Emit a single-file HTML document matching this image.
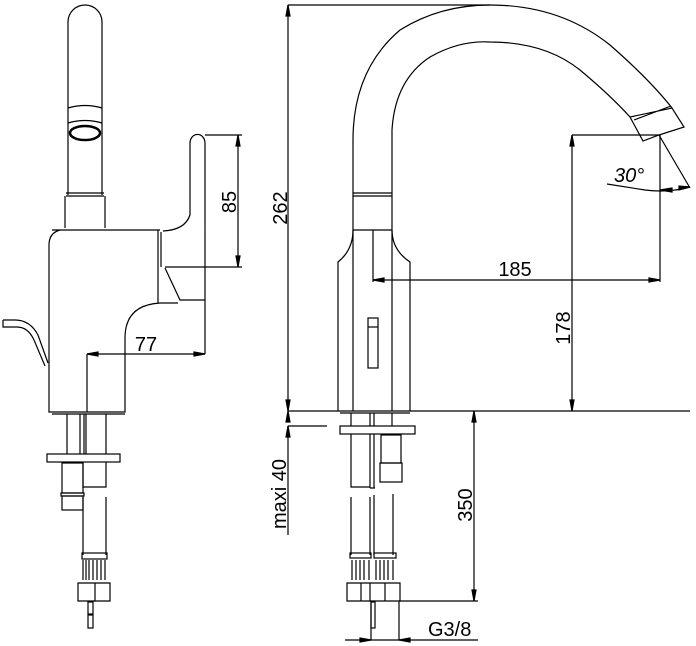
<!DOCTYPE html>
<html><head><meta charset="utf-8"><style>
html,body{margin:0;padding:0;background:#fff;}
svg{display:block}
text{font-family:"Liberation Sans",sans-serif;font-size:20px;fill:#000;stroke:none;font-weight:normal}
</style></head><body>
<svg width="696" height="646" viewBox="0 0 696 646" xmlns="http://www.w3.org/2000/svg">
<g fill="none" stroke="#000" stroke-width="1.2">
<!-- LEFT VIEW -->
<path d="M68,195 V22 A17,17 0 0 1 102,22 V195"/>
<path d="M68,108 Q85,103 102,108"/>
<path d="M68,123 Q85,118 102,123"/>
<ellipse cx="85" cy="133" rx="15" ry="7" stroke-width="2.5"/>
<path d="M66,193 H104 M66,196 H104"/>
<path d="M65,196 V228 M105,196 V228"/>
<path d="M52,230 H160 M60,230 Q49,233 49,245 V412 H125 V338 Q125,305 160,303 H178"/>
<path d="M158,230 V303"/>
<path d="M161,232 V267"/>
<path d="M163,231 Q185,230 190,215 V143 A7,8 0 0 1 205,143 V300 H180 L165,268"/>
<path d="M3,320 H15 Q30,320 38,335 L48,363"/>
<path d="M3,320 V327 H17 Q28,327 34,340 L45,366"/>
<path d="M205,135 H242 M165,267 H242 M238,135 V267"/>
<path d="M238,135 L236,146 L240,146Z M238,267 L236,256 L240,256Z" fill="#000"/>
<text transform="translate(236,202) rotate(-90)" text-anchor="middle">85</text>
<path d="M87,354 H205 M87,354 V412 M205,300 V354"/>
<path d="M87,354 L98,352 L98,356Z M205,354 L194,352 L194,356Z" fill="#000"/>
<text x="146" y="351" text-anchor="middle">77</text>
<path d="M52,414 H125"/>
<path d="M67,414 V454 M84,414 V454 M80,414 V454 M86,414 V454 M106,414 V454"/>
<rect x="47" y="454" width="73" height="8"/>
<rect x="62" y="463" width="21" height="30"/>
<rect x="61" y="493" width="23" height="3"/>
<rect x="62" y="496" width="21" height="14"/>
<path d="M83,462 V487 H106 V462 M83,497 V555 M106,497 V555"/>
<rect x="82" y="553" width="25" height="6"/>
<path d="M83,560 V580 M86,560 V580 M89,560 V580 M93,560 V580 M97,560 V580 M101,560 V580 M105,560 V580"/>
<path d="M78,583 H110 V601 H78Z M95,583 V601"/>
<rect x="88" y="602" width="5" height="12"/>
<rect x="88" y="615" width="5" height="13"/>
<!-- RIGHT VIEW -->
<path d="M288,5 V411 M288,5 H490"/>
<path d="M288,5 L286,16 L290,16Z M288,411 L286,400 L290,400Z" fill="#000"/>
<text transform="translate(287,208) rotate(-90)" text-anchor="middle">262</text>
<path d="M353,230 V140 Q353,70 400,30 Q440,5 490,5 Q560,5 610,45 Q650,80 672,108"/>
<path d="M392,230 V130 Q395,80 430,57 Q460,40 490,42 Q545,42 580,70 Q610,95 630,117"/>
<path d="M630,117 L643,141 L659,135 L684,127 L672,108 Z M634,120 L671,106"/>
<path d="M353,193 H392 M353,196 H392"/>
<path d="M353,230 H392"/>
<path d="M353,230 Q353,250 338,262 V411 M392,230 Q392,250 410,262 V411"/>
<path d="M353,230 V411 M392,230 V411"/>
<rect x="368" y="318" width="10" height="50"/>
<path d="M368,327 H378"/>
<path d="M373,230 V282 M373,280 H660 M660,135 V282"/>
<path d="M373,280 L384,278 L384,282Z M660,280 L649,278 L649,282Z" fill="#000"/>
<text x="515" y="276" text-anchor="middle">185</text>
<path d="M572,135 H660 M572,135 V411"/>
<path d="M572,135 L570,146 L574,146Z M572,411 L570,400 L574,400Z" fill="#000"/>
<text transform="translate(570,328) rotate(-90)" text-anchor="middle">178</text>
<path d="M659,135 L690,188 M607,184 L645,190 Q668,193 690,187"/>
<path d="M690,187 L679,190 L679,186Z M660,190 L672,188 L672,192Z" fill="#000"/>
<text x="614" y="182" font-style="italic">30°</text>
<path d="M288,411 H690"/>
<path d="M340,413 H410"/>
<path d="M288,426 H327"/>
<path d="M288,426 L286,437 L290,437Z M288,411 L286,422 L290,422Z" fill="#000"/>
<path d="M288,426 V535"/>
<text transform="translate(286,494) rotate(-90)" text-anchor="middle">maxi 40</text>
<path d="M351,413 V426 M370,413 V426 M374,413 V426 M392,413 V426"/>
<rect x="340" y="426" width="75" height="8"/>
<path d="M351,434 V487 H370 V434 M370,434 V488 M374,434 V488 M370,488 H375"/>
<rect x="381" y="435" width="20" height="28"/>
<rect x="380" y="463" width="22" height="19"/>
<path d="M351,497 V555 M370,497 V555 M374,495 V555 M393,494 V555"/>
<rect x="350" y="553" width="21" height="5"/><rect x="374" y="553" width="22" height="5"/>
<path d="M352,560 V580 M356,560 V580 M360,560 V580 M364,560 V580 M369,560 V580 M376,560 V580 M380,560 V580 M384,560 V580 M388,560 V580 M393,560 V580"/>
<path d="M347,583 H400 V601 H347Z M361,583 V601 M370,583 V601 M385,583 V601"/>
<rect x="371" y="602" width="4" height="26"/>
<path d="M474,411 V601 M400,601 H478"/>
<path d="M474,411 L472,422 L476,422Z M474,601 L472,590 L476,590Z" fill="#000"/>
<text transform="translate(472,505) rotate(-90)" text-anchor="middle">350</text>
<path d="M345,640 H478 M371,601 V640 M399,601 V640"/>
<path d="M371,640 L360,638 L360,642Z M399,640 L410,638 L410,642Z" fill="#000"/>
<text x="428" y="636">G3/8</text>
</g>
</svg>
</body></html>
